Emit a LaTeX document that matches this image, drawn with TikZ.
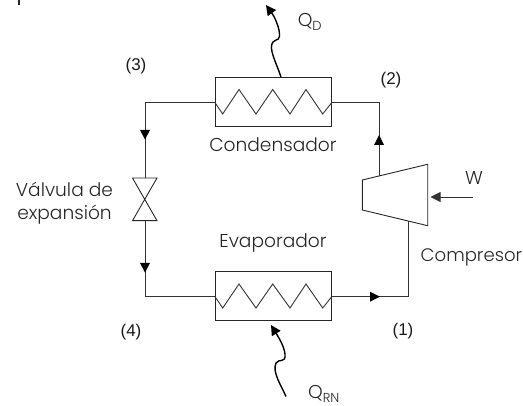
\documentclass[tikz,border=0pt]{standalone}
\usepackage{fontspec}
\setmainfont{Poppins}[UprightFont=* Light]
\newfontfamily\numfont{Liberation Sans}
\usetikzlibrary{arrows.meta}
\tikzset{
  pipe/.style={draw=black!80,line width=0.9pt},
  box/.style={draw=black!85,line width=0.9pt,fill=none},
  lab/.style={inner sep=0pt,font=\fontsize{18.6}{22}\selectfont,text=black!85},
  num/.style={inner sep=0pt,font=\numfont\fontsize{17}{20}\selectfont,text=black!90},
  heat/.style={line width=1.4pt,-{Triangle[length=10pt,width=10pt]}}
}
\begin{document}
\begin{tikzpicture}[x=1pt,y=-1pt]
\useasboundingbox (0,0) rectangle (523,406);
% equipment
\node[box,minimum width=116.7pt,minimum height=49pt,inner sep=0pt,outer sep=0pt] (cond) at (273.3,101.5) {};
\node[box,minimum width=116.7pt,minimum height=49pt,inner sep=0pt,outer sep=0pt] (evap) at (273.3,295.5) {};
\coordinate (cl) at (215,102.7);
\coordinate (cr) at (331.7,102.7);
\coordinate (el) at (215,296.7);
\coordinate (er) at (331.7,296.7);
\draw[pipe,line join=miter] (cl) -- (222.7,114) -- (239,89.5) -- (256,114) -- (272.7,89.5) -- (290,114) -- (306,89.5) -- (322.7,114) -- (cr);
\draw[pipe,line join=miter] (el) -- (222.7,308) -- (239,284) -- (256,308) -- (272.7,284) -- (290,308) -- (306,284) -- (322.7,308) -- (er);
% compressor
\draw[box] (362.3,180) -- (427.7,164.3) -- (427.7,225.7) -- (362.3,210) -- cycle;
\coordinate (compTop) at (379,176);
\coordinate (compBot) at (408.7,221);
% valve
\coordinate (vt) at (145,178);
\coordinate (vb) at (145,220.7);
\draw[box] (132.5,178) -- (157,178) -- (132.5,220.7) -- (157,220.7) -- cycle;
% pipes
\coordinate (c3) at (145,102.7);
\coordinate (c4) at (145,296.7);
\coordinate (c2) at (379,102.7);
\coordinate (c1) at (408.7,296.7);
\draw[pipe] (cl) -- (c3) -- (vt);
\draw[pipe] (vb) -- (c4) -- (el);
\draw[pipe] (er) -- (c1) -- (compBot);
\fill[black] (380,296.7) -- (370,291.7) -- (370,301.7) -- cycle;
\draw[pipe] (compTop) -- (c2) -- (cr);
\fill[black] (379,135) -- (374,145) -- (384,145) -- cycle;
\fill[black] (145,139.5) -- (140,130) -- (150,130) -- cycle;
\fill[black] (145,272.5) -- (140,263) -- (150,263) -- cycle;
% work
\coordinate (wstart) at (473,197);
\coordinate (wend) at (430.5,197);
\draw[pipe,-{Triangle[length=10pt,width=10pt]}] (wstart) -- (wend);
% heat
\coordinate (qds) at (281,77);
\coordinate (qde) at (266,5);
\draw[heat] (qds) .. controls (276,62) and (268,48) .. (273,42) .. controls (277,38) and (281,42) .. (279,30) .. controls (277,22) and (274,16) .. (qde);
\coordinate (qrs) at (286,396.5);
\coordinate (qre) at (271,325);
\draw[heat] (qrs) .. controls (281,385) and (272,372) .. (276,363) .. controls (279,358) and (286,364) .. (285,354) .. controls (284,346) and (279,338) .. (qre);
% stray stroke
\coordinate (sa) at (19,0);
\coordinate (sb) at (19,5);
\draw[line width=1.6pt,black!85] (sa) -- (sb);
% labels
\node[lab] (tcond) at (273,145) {Condensador};
\node[lab] (tevap) at (273,243) {Evaporador};
\node[lab,align=center,font=\fontsize{18.6}{23}\selectfont] (tval) at (64.5,203.5) {Válvula de\\expansión};
\node[lab,anchor=west,font=\fontsize{18.1}{22}\selectfont] (tcomp) at (420.5,257) {Compresor};
\node[lab] (tw) at (474,178) {W};
\node[lab] (tqd) at (310,22) {Q\textsubscript{D}};
\node[lab] (tqr) at (324,394) {Q\textsubscript{RN}};
\node[num] (n3) at (136,66) {(3)};
\node[num] (n2) at (391,80) {(2)};
\node[num] (n4) at (131,332) {(4)};
\node[num] (n1) at (403,331) {(1)};
\end{tikzpicture}
\end{document}
